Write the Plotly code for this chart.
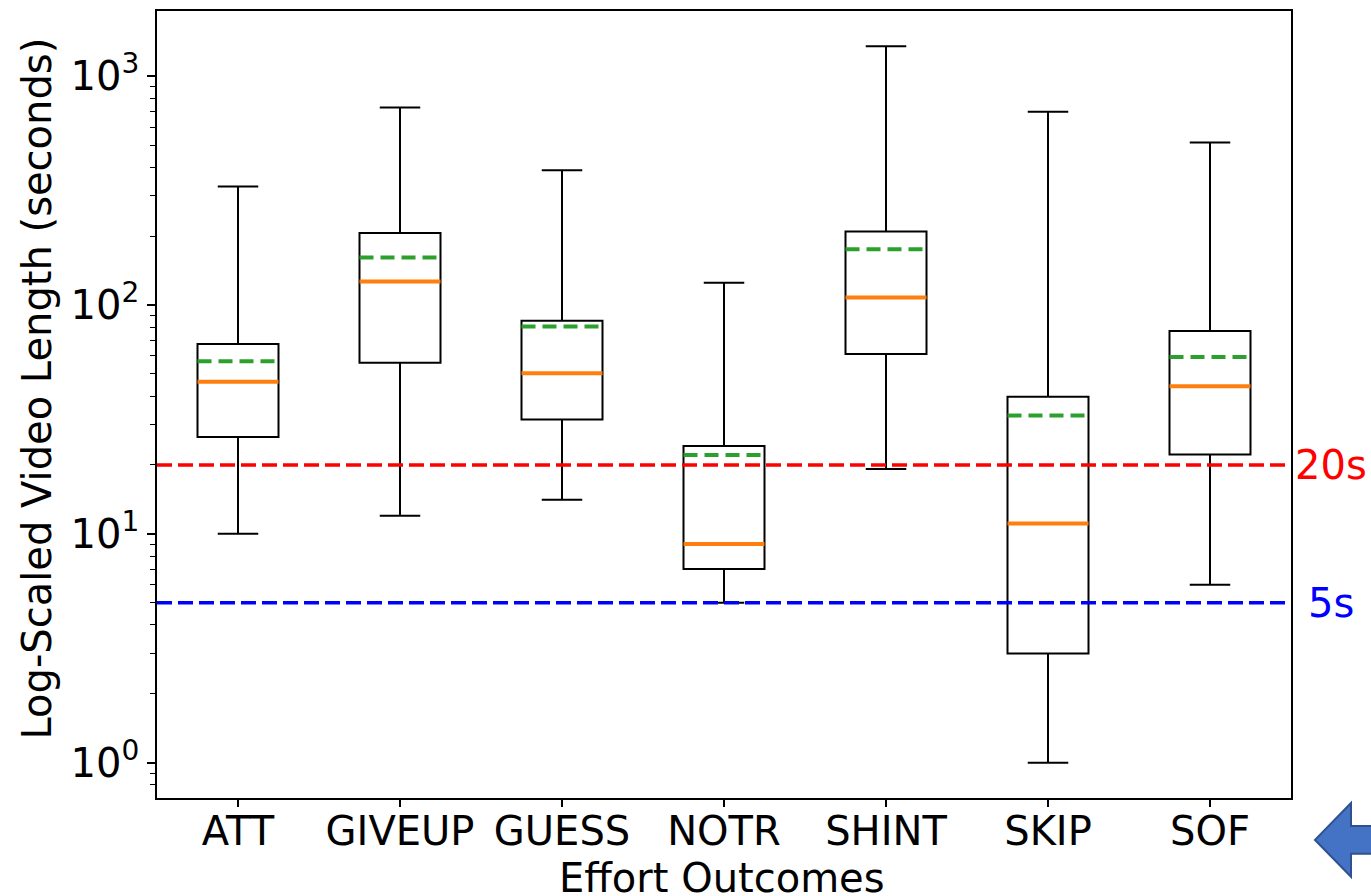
import math
import plotly.graph_objects as go

# Video length statistics (seconds) per effort outcome
categories = ["ATT", "GIVEUP", "GUESS", "NOTR", "SHINT", "SKIP", "SOF"]
whisker_low = [10.0, 12.0, 14.1, 5.0, 19.2, 1.0, 6.0]
q1_vals = [26.5, 55.9, 31.6, 7.03, 61.1, 3.0, 22.2]
median_vals = [46.2, 126.9, 50.4, 9.03, 108.0, 11.1, 44.2]
mean_vals = [56.8, 161.4, 80.5, 22.1, 175.5, 32.9, 59.3]
q3_vals = [67.6, 206.5, 85.5, 24.2, 209.6, 39.7, 77.0]
whisker_high = [330.0, 730.0, 388.0, 125.3, 1353.0, 699.0, 514.0]

# Reference thresholds (seconds)
threshold_vals = [20, 5]
threshold_labels = ["20s", "5s"]
threshold_colors = ["#ff0000", "#0000ff"]

y_tickvals = [1, 10, 100, 1000]
y_ticktext = ["10<sup>0</sup>", "10<sup>1</sup>", "10<sup>2</sup>", "10<sup>3</sup>"]
y_minor_tickvals = [0.8, 0.9,
                    2, 3, 4, 5, 6, 7, 8, 9,
                    20, 30, 40, 50, 60, 70, 80, 90,
                    200, 300, 400, 500, 600, 700, 800, 900]

FONT = "DejaVu Sans"
W, H = 1371, 896
ML, MR, MT, MB = 157, 80, 9, 98
BOX_W = 0.5

fig = go.Figure()

# Boxes with whiskers
for i, cat in enumerate(categories):
    fig.add_trace(go.Box(
        x=[i],
        q1=[q1_vals[i]], median=[median_vals[i]], q3=[q3_vals[i]],
        lowerfence=[whisker_low[i]], upperfence=[whisker_high[i]],
        width=BOX_W, whiskerwidth=0.5,
        line=dict(color="black", width=2),
        fillcolor="rgba(255,255,255,0)",
        boxpoints=False, hoverinfo="skip", showlegend=False,
    ))

# Median (orange) and mean (green dashed) lines across each box
def segments(vals):
    xs, ys = [], []
    for i, v in enumerate(vals):
        xs += [i - BOX_W / 2, i + BOX_W / 2, None]
        ys += [v, v, None]
    return xs, ys

mx, my = segments(median_vals)
fig.add_trace(go.Scatter(x=mx, y=my, mode="lines",
                         line=dict(color="#ff7f0e", width=4),
                         showlegend=False, hoverinfo="skip"))
ax_, ay_ = segments(mean_vals)
fig.add_trace(go.Scatter(x=ax_, y=ay_, mode="lines",
                         line=dict(color="#2ca02c", width=4, dash="14px,7px"),
                         showlegend=False, hoverinfo="skip"))

# Threshold lines
for val, col in zip(threshold_vals, threshold_colors):
    fig.add_trace(go.Scatter(x=[-0.5, len(categories) - 0.5], y=[val, val],
                             mode="lines",
                             line=dict(color=col, width=3.5, dash="15px,6px"),
                             showlegend=False, hoverinfo="skip"))

annotations = []
for val, lab, col in zip(threshold_vals, threshold_labels, threshold_colors):
    annotations.append(dict(
        x=(1331 - ML) / (W - ML - MR), xref="paper", xanchor="center",
        y=math.log10(val), yref="y", yanchor="middle",
        text=lab, showarrow=False, font=dict(family=FONT, size=40, color=col),
    ))

plot_h = H - MT - MB
plot_w = W - ML - MR
annotations.append(dict(
    x=(37 - ML) / plot_w, xref="paper", xanchor="center",
    y=(H - MB - 387.5) / plot_h, yref="paper", yanchor="middle",
    text="Log-Scaled Video Length (seconds)", textangle=-90, showarrow=False,
    font=dict(family=FONT, size=40, color="black"),
))
annotations.append(dict(
    x=(722 - ML) / plot_w, xref="paper", xanchor="center",
    y=(H - MB - 878) / plot_h, yref="paper", yanchor="middle",
    text="Effort Outcomes", showarrow=False,
    font=dict(family=FONT, size=40, color="black"),
))

# Left-pointing block arrow in the lower right corner
def px(x):
    return (x - ML) / plot_w

def py(y):
    return (H - MB - y) / plot_h

arrow_pts = [(1315, 840), (1351, 803), (1351, 826), (1400, 826),
             (1400, 854), (1351, 854), (1351, 877)]
path = "M " + " L ".join(f"{px(x):.5f},{py(y):.5f}" for x, y in arrow_pts) + " Z"

fig.update_layout(
    width=W, height=H,
    margin=dict(l=ML, r=MR, t=MT, b=MB, pad=0),
    paper_bgcolor="white", plot_bgcolor="white",
    font=dict(family=FONT, size=40, color="black"),
    annotations=annotations,
    shapes=[dict(type="path", path=path, xref="paper", yref="paper",
                 fillcolor="#4472c4", line=dict(color="#2f528f", width=2),
                 layer="above")],
    xaxis=dict(
        range=[-0.5, len(categories) - 0.5],
        tickvals=list(range(len(categories))), ticktext=categories,
        ticks="outside", ticklen=7, tickwidth=1.5, tickcolor="black",
        ticklabelstandoff=-10,
        showline=True, linecolor="black", linewidth=1.5, mirror=True,
        showgrid=False, zeroline=False,
        tickfont=dict(family=FONT, size=40, color="black"),
    ),
    yaxis=dict(
        type="log", range=[-0.1544, 3.2852],
        tickvals=y_tickvals, ticktext=y_ticktext,
        ticks="outside", ticklen=8, tickwidth=1.5, tickcolor="black",
        minor=dict(ticks="outside", ticklen=5, tickwidth=1.2,
                   tickcolor="black", tickvals=y_minor_tickvals, showgrid=False),
        showline=True, linecolor="black", linewidth=1.5, mirror=True,
        showgrid=False, zeroline=False,
        tickfont=dict(family=FONT, size=40, color="black"),
    ),
)

fig.write_html("out.html")
